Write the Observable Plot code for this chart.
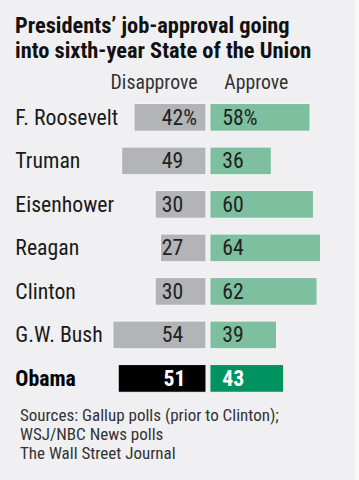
<!DOCTYPE html>
<html><head>
<meta charset="utf-8">
<script src="https://cdn.jsdelivr.net/npm/d3@7"></script>
<script src="https://cdn.jsdelivr.net/npm/@observablehq/plot@0.6"></script>
<style>
  html, body { margin: 0; padding: 0; background: #f8f8f9; }
  #wrap { width: 355px; height: 480px; background: #f0f0f2; position: relative; overflow: visible;
          font-family: 'Roboto Condensed', sans-serif; }
  #title { box-sizing: border-box; height: 62px; padding: 13px 0 0 15px; margin: 0;
           font-size: 22.4px; font-weight: bold; line-height: 24.5px; color: #111; white-space: nowrap; }
  #chart svg { display: block; background: transparent; overflow: visible; }
  #foot { margin: 0; padding: 0 0 0 20px; font-size: 17px; line-height: 19px; color: #333; white-space: nowrap; }
</style>
</head><body>
<div id="wrap">
  <div id="title">Presidents’ job-approval going<br>into sixth-year State of the Union</div>
  <div id="chart"></div>
  <div id="foot">Sources: Gallup polls (prior to Clinton);<br>WSJ/NBC News polls<br>The Wall Street Journal</div>
</div>
<script>
const presidents = ["F. Roosevelt", "Truman", "Eisenhower", "Reagan", "Clinton", "G.W. Bush", "Obama"];
const disapprove = [42, 49, 30, 27, 30, 54, 51];
const approve = [58, 36, 60, 64, 62, 39, 43];
const headers = ["Disapprove", "Approve"];
const highlight = "Obama";

const rows = presidents.map((name, i) => ({
  name, dis: disapprove[i], app: approve[i],
  disLabel: i === 0 ? disapprove[i] + "%" : String(disapprove[i]),
  appLabel: i === 0 ? approve[i] + "%" : String(approve[i]),
  hl: name === highlight
}));
const normal = rows.filter(d => !d.hl);
const hl = rows.filter(d => d.hl);
const font = "'Roboto Condensed', sans-serif";

const chart = Plot.plot({
  width: 359, height: 348,
  marginLeft: 0, marginRight: 0, marginTop: 0, marginBottom: 0,
  x: { domain: [-118.15, 83.54], range: [0, 359], axis: null },
  y: { domain: presidents, range: [23.5, 351.5], padding: 0.371, axis: null },
  style: { fontFamily: font, background: "transparent" },
  marks: [
    // column headers
    Plot.text([headers[0]], { x: 0, frameAnchor: "top", lineAnchor: "bottom", dy: 27, dx: -11,
      text: d => d, textAnchor: "end", fontSize: 20, fill: "#333" }),
    Plot.text([headers[1]], { x: 0, frameAnchor: "top", lineAnchor: "bottom", dy: 27, dx: 16,
      text: d => d, textAnchor: "start", fontSize: 20, fill: "#333" }),
    // bars
    Plot.barX(rows, { y: "name", x1: d => -d.dis, x2: 0, insetRight: 2,
      fill: d => d.hl ? "#000000" : "#b3b4b7", stroke: "#f7f7f8", strokeWidth: 1 }),
    Plot.barX(rows, { y: "name", x1: 0, x2: "app", insetLeft: 2,
      fill: d => d.hl ? "#00925f" : "#7ebfa0", stroke: "#f7f7f8", strokeWidth: 1 }),
    // names
    Plot.text(normal, { y: "name", text: "name", frameAnchor: "left", dx: 15, textAnchor: "start",
      fontSize: 22, fill: "#1a1a1a" }),
    Plot.text(hl, { y: "name", text: "name", frameAnchor: "left", dx: 15, textAnchor: "start",
      fontSize: 22, fontWeight: "bold", fill: "#000" }),
    // values
    Plot.text(normal, { y: "name", x: 0, text: "disLabel", dx: -47.3, textAnchor: "start",
      fontSize: 22, fill: "#222" }),
    Plot.text(normal, { y: "name", x: 0, text: "appLabel", dx: 14, textAnchor: "start",
      fontSize: 22, fill: "#222" }),
    Plot.text(hl, { y: "name", x: 0, text: "disLabel", dx: -45.5, textAnchor: "start",
      fontSize: 22, fontWeight: "bold", fill: "#fff" }),
    Plot.text(hl, { y: "name", x: 0, text: "appLabel", dx: 14, textAnchor: "start",
      fontSize: 22, fontWeight: "bold", fill: "#fff" })
  ]
});
document.getElementById("chart").append(chart);
</script>
</body></html>
